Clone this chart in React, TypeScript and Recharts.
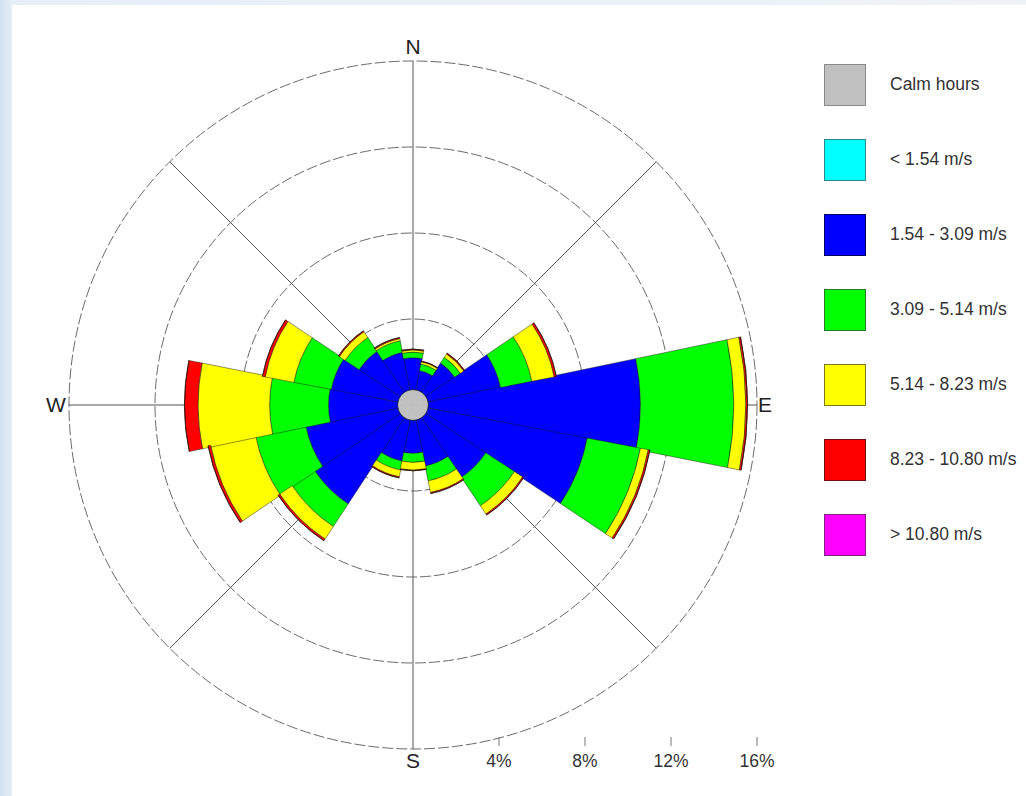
import {
  Legend,
  PolarAngleAxis,
  PolarGrid,
  PolarRadiusAxis,
  RadialBar,
  RadialBarChart,
} from "recharts";

// 16 compass sectors, clockwise from north
const directions = [
  "N", "NNE", "NE", "ENE", "E", "ESE", "SE", "SSE",
  "S", "SSW", "SW", "WSW", "W", "WNW", "NW", "NNW",
];

// frequency (%) of each speed class per sector
const calmPct = 0.72;
const below154 = [0, 0, 0, 0, 0, 0, 0, 0, 0, 0, 0, 0, 0, 0, 0, 0];
const from154to309 = [1.48, 0.91, 1.61, 3.43, 9.86, 7.53, 3.33, 2.18, 1.53, 1.94, 4.78, 4.36, 3.21, 3.15, 2.28, 1.78];
const from309to514 = [0.26, 0.31, 0.32, 1.49, 4.34, 2.52, 1.59, 0.7, 0.42, 0.42, 1.26, 2.38, 2.74, 1.77, 0.78, 0.55];
const from514to823 = [0.1, 0.11, 0.19, 1.06, 0.56, 0.37, 0.46, 0.55, 0.36, 0.32, 0.7, 2.14, 3.33, 1.36, 0.32, 0.1];
const from823to1080 = [0.04, 0.03, 0.05, 0.1, 0.08, 0.08, 0.06, 0.05, 0.03, 0.05, 0.09, 0.12, 0.63, 0.13, 0.05, 0.05];
const above1080 = [0, 0, 0, 0, 0, 0, 0, 0, 0, 0, 0, 0, 0, 0, 0, 0];

const radiusTicks = [4, 8, 12, 16];
const compassLabels = ["N", "E", "S", "W"];

const classes = [
  { key: "calm", label: "Calm hours", fill: "#c0c0c0", border: "#8a8a8a" },
  { key: "c1", label: "< 1.54 m/s", fill: "#00ffff", border: "#2a8c8c" },
  { key: "c2", label: "1.54 - 3.09 m/s", fill: "#0000ff", border: "#000060" },
  { key: "c3", label: "3.09 - 5.14 m/s", fill: "#00ff00", border: "#2a7a2a" },
  { key: "c4", label: "5.14 - 8.23 m/s", fill: "#ffff00", border: "#7a7a20" },
  { key: "c5", label: "8.23 - 10.80 m/s", fill: "#ff0000", border: "#701010" },
  { key: "c6", label: "> 10.80 m/s", fill: "#ff00ff", border: "#802080" },
];

const rows = directions.map((dir, i) => ({
  dir,
  calm: calmPct,
  c1: below154[i],
  c2: from154to309[i],
  c3: from309to514[i],
  c4: from514to823[i],
  c5: from823to1080[i],
  c6: above1080[i],
}));

const FONT = "'Liberation Sans', Arial, sans-serif";

// chart geometry
const CX = 401;
const CY = 400;
const SECTOR = 360 / directions.length;
// band scale runs clockwise; each bar spans [start, start + band] counter-clockwise,
// so the first band starts half a sector clockwise of north
const START = 90 - SECTOR / 2;

function CompassTick(props: any) {
  const { x, y, payload } = props;
  const name = payload?.value;
  if (!compassLabels.includes(name)) return null;
  // tick sits on the band edge; swing it back to the sector centre
  const r = Math.hypot(x - CX, y - CY);
  const a = (Math.atan2(CY - y, x - CX) * 180) / Math.PI + SECTOR / 2;
  let tx = CX + r * Math.cos((a * Math.PI) / 180);
  let ty = CY - r * Math.sin((a * Math.PI) / 180);
  if (name === "N") ty += 1;
  if (name === "S") ty += 11;
  if (name === "E") ty += 7;
  if (name === "W") {
    tx -= 5;
    ty += 7;
  }
  return (
    <text x={tx} y={ty} textAnchor="middle" fontSize={21} fill="#222" fontFamily={FONT}>
      {name}
    </text>
  );
}

function PercentTick(props: any) {
  const { x, y, payload } = props;
  return (
    <g>
      <line x1={x} y1={y + 332} x2={x} y2={y + 341} stroke="#777" strokeWidth={1} />
      <text x={x} y={y + 362} textAnchor="middle" fontSize={17.5} fill="#333" fontFamily={FONT}>
        {`${payload.value}%`}
      </text>
    </g>
  );
}

function SpeedLegend() {
  return (
    <div style={{ fontFamily: FONT }}>
      {classes.map((c) => (
        <div key={c.key} style={{ display: "flex", alignItems: "center", height: 75 }}>
          <div
            style={{
              width: 42,
              height: 42,
              background: c.fill,
              border: `1px solid ${c.border}`,
              boxSizing: "border-box",
            }}
          />
          <span style={{ marginLeft: 24, fontSize: 17.5, color: "#333" }}>{c.label}</span>
        </div>
      ))}
    </div>
  );
}

export default function App() {
  return (
    <div
      style={{
        position: "absolute",
        left: 0,
        top: 0,
        width: 1026,
        height: 796,
        background: "linear-gradient(90deg, #d2e1f0 0px, #e6eef7 12px, #eef3f9 100%)",
        overflow: "hidden",
      }}
    >
      <div
        style={{
          position: "absolute",
          left: 12,
          top: 5,
          width: 1014,
          height: 791,
          background: "#fff",
        }}
      >
        <RadialBarChart
          width={1014}
          height={791}
          data={rows}
          layout="centric"
          cx={CX}
          cy={CY}
          innerRadius={0}
          outerRadius={344}
          startAngle={START}
          endAngle={START - 360}
          barCategoryGap={0}
          barGap={0}
          margin={{ top: 0, right: 0, bottom: 0, left: 0 }}
        >
          {/* dashed rings at the % ticks */}
          <PolarGrid
            gridType="circle"
            radialLines={false}
            stroke="#6a6a6a"
            strokeWidth={1}
            strokeDasharray="11 3"
          />
          {/* compass cross and diagonals */}
          <PolarGrid
            gridType="circle"
            polarRadius={[]}
            polarAngles={[90, 45, 0, -45, -90, -135, 180, 135]}
            stroke="#555"
            strokeWidth={1}
          />
          <PolarAngleAxis
            type="category"
            dataKey="dir"
            axisLine={false}
            tickLine={false}
            tick={<CompassTick />}
          />
          <PolarRadiusAxis
            type="number"
            angle={0}
            domain={[0, 16]}
            ticks={radiusTicks}
            axisLine={false}
            tickLine={false}
            tick={<PercentTick />}
          />
          {classes.map((c) => (
            <RadialBar
              key={c.key}
              dataKey={c.key}
              stackId="wind"
              fill={c.fill}
              stroke={c.key === "calm" ? c.fill : "#111"}
              strokeWidth={c.key === "calm" ? 0.5 : 0.6}
              strokeOpacity={c.key === "calm" ? 1 : 0.75}
              isAnimationActive={false}
            />
          ))}
          <Legend
            layout="vertical"
            align="right"
            verticalAlign="top"
            content={() => <SpeedLegend />}
            wrapperStyle={{ position: "absolute", left: 812, top: 42, width: 200 }}
          />
        </RadialBarChart>
      </div>
    </div>
  );
}
